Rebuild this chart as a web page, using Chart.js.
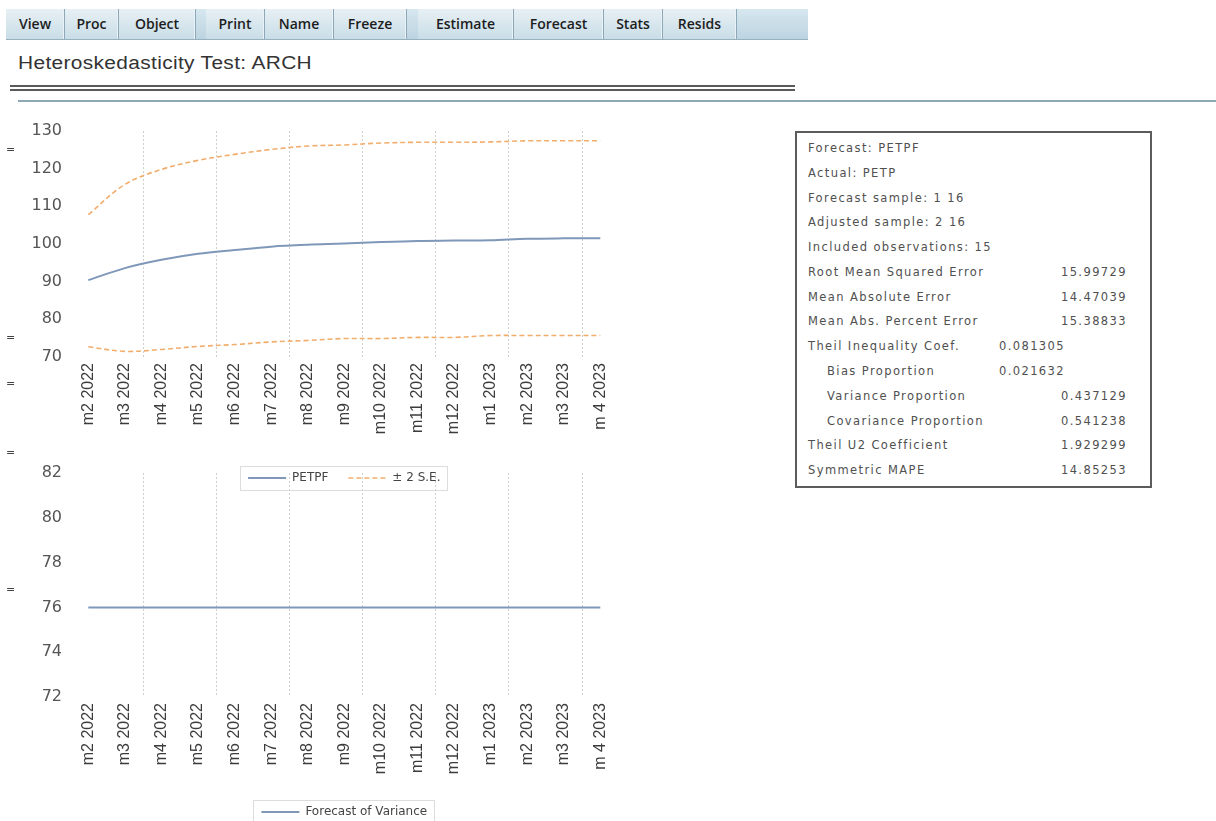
<!DOCTYPE html>
<html>
<head>
<meta charset="utf-8">
<script src="https://cdn.jsdelivr.net/npm/chart.js@4.4.1/dist/chart.umd.min.js"></script>
<style>
  body { margin: 0; width: 1216px; height: 821px; overflow: hidden; background: #fff; position: relative; font-family: "DejaVu Sans", sans-serif; }
  .toolbar { position: absolute; left: 6px; top: 9px; width: 802px; height: 30px; background: linear-gradient(#d6e7ef, #bcd4e1); border-bottom: 1px solid #98b1bf; }
  .toolbar span { position: absolute; top: 0; height: 30px; line-height: 30px; text-align: center; font-family: "Open Sans", sans-serif; font-weight: 600; font-size: 14px; color: #1d1d1d; border-right: 1px solid #8ea8b7; box-shadow: inset -1px 0 0 #e9f2f6; box-sizing: border-box; background: linear-gradient(#e7f0f4, #c9dde7); }
  .titulo { position: absolute; left: 18px; top: 53px; font-family: "Liberation Sans", Arial, sans-serif; font-size: 18px; letter-spacing: 0.3px; color: #333; transform: scaleX(1.16); transform-origin: 0 0; white-space: nowrap; }
  .duplo { position: absolute; left: 10px; top: 85px; width: 785px; height: 2px; border-top: 2px solid #5a5a5a; border-bottom: 2px solid #5a5a5a; }
  .azul { position: absolute; left: 18px; top: 100px; width: 1198px; height: 2px; background: #8fa8b6; }
  .marca { position: absolute; left: 6px; font-size: 11px; color: #444; line-height: 10px; }
  .stats { position: absolute; left: 795px; top: 131px; width: 357px; height: 357px; border: 2px solid #5c5c5c; box-sizing: border-box; }
  .stats div { position: absolute; font-size: 11.5px; letter-spacing: 1.4px; color: #505050; white-space: nowrap; line-height: 14px; }
  canvas { position: absolute; }
</style>
</head>
<body>
<div class="toolbar" id="barra"></div>
<div class="titulo">Heteroskedasticity Test: ARCH</div>
<div class="duplo"></div>
<div class="azul"></div>
<div class="stats" id="stats"></div>
<canvas id="graficoVariancia" width="640" height="388" style="left:0;top:440px"></canvas>
<canvas id="graficoPrevisao" width="640" height="384" style="left:0;top:110px"></canvas>
<script>
const rotulos = ["m2 2022", "m3 2022", "m4 2022", "m5 2022", "m6 2022", "m7 2022", "m8 2022", "m9 2022", "m10 2022", "m11 2022", "m12 2022", "m1 2023", "m2 2023", "m3 2023", "m 4 2023"];
const petpf = [90.4, 93.6, 95.8, 97.4, 98.4, 99.3, 99.8, 100.1, 100.5, 100.8, 100.9, 101.0, 101.4, 101.5, 101.5];
const bandaSuperior = [107.8, 115.8, 119.8, 122.2, 123.8, 125.1, 126.0, 126.3, 126.8, 127.0, 127.0, 127.1, 127.4, 127.4, 127.4];
const bandaInferior = [72.7, 71.5, 72.0, 72.8, 73.3, 74.0, 74.4, 74.9, 74.9, 75.2, 75.2, 75.7, 75.7, 75.7, 75.7];
const variancia = [76, 76, 76, 76, 76, 76, 76, 76, 76, 76, 76, 76, 76, 76, 76];
const ticksPrevisao = [70, 80, 90, 100, 110, 120, 130];
const ticksVariancia = [72, 74, 76, 78, 80, 82];

const botoes = ["View", "Proc", "Object", "", "Print", "Name", "Freeze", "", "Estimate", "Forecast", "Stats", "Resids"];
const bordasBotoes = [0, 59, 113, 190, 200, 259, 328, 401, 412, 508, 598, 657, 731];

const estatLinhas = [
  ["Forecast: PETPF", "", 0, 0],
  ["Actual: PETP", "", 0, 0],
  ["Forecast sample: 1 16", "", 0, 0],
  ["Adjusted sample: 2 16", "", 0, 0],
  ["Included observations: 15", "", 0, 0],
  ["Root Mean Squared Error", "15.99729", 0, 2],
  ["Mean Absolute Error", "14.47039", 0, 2],
  ["Mean Abs. Percent Error", "15.38833", 0, 2],
  ["Theil Inequality Coef.", "0.081305", 0, 1],
  ["Bias Proportion", "0.021632", 1, 1],
  ["Variance Proportion", "0.437129", 1, 2],
  ["Covariance Proportion", "0.541238", 1, 2],
  ["Theil U2 Coefficient", "1.929299", 0, 2],
  ["Symmetric MAPE", "14.85253", 0, 2]
];

function montarBarra() {
  const barra = document.getElementById("barra");
  botoes.forEach((nome, i) => {
    if (!nome) return;
    const el = document.createElement("span");
    el.textContent = nome;
    el.style.left = bordasBotoes[i] + "px";
    el.style.width = (bordasBotoes[i + 1] - bordasBotoes[i]) + "px";
    barra.appendChild(el);
  });
  // marquinhas "=" soltas na margem esquerda
  [150, 338, 384, 453, 590].forEach((y) => {
    const m = document.createElement("div");
    m.className = "marca";
    m.textContent = "=";
    m.style.top = (y - 5) + "px";
    document.body.appendChild(m);
  });
}

function montarEstatisticas() {
  const caixa = document.getElementById("stats");
  estatLinhas.forEach(([texto, valor, recuo, coluna], i) => {
    const y = 148 + i * 24.78 - 131 - 2 - 7;
    const rot = document.createElement("div");
    rot.textContent = texto;
    rot.style.left = (recuo ? 30 : 11) + "px";
    rot.style.top = y + "px";
    caixa.appendChild(rot);
    if (valor) {
      const v = document.createElement("div");
      v.textContent = valor;
      v.style.right = (coluna === 1 ? 1152 - 1067 : 1152 - 1129) + "px";
      v.style.top = y + "px";
      caixa.appendChild(v);
    }
  });
}

const moldura = {
  id: "moldura",
  afterDraw(chart) {
    const caixas = chart.legend.legendHitBoxes;
    if (!caixas || !caixas.length) return;
    const esq = Math.min(...caixas.map((c) => c.left)) - 8;
    const dir = Math.max(...caixas.map((c) => c.left + c.width)) + 7;
    const topo = Math.min(...caixas.map((c) => c.top)) - 6;
    const base = Math.max(...caixas.map((c) => c.top + c.height)) + 6;
    const ctx = chart.ctx;
    ctx.save();
    ctx.strokeStyle = "#dcdcdc";
    ctx.lineWidth = 1;
    ctx.strokeRect(Math.round(esq) + 0.5, Math.round(topo) + 0.5, Math.round(dir - esq), Math.round(base - topo));
    ctx.restore();
  }
};

function eixoX(altura) {
  return {
    type: "category",
    offset: true,
    afterFit: (s) => { s.height = altura; },
    grid: {
      offset: true,
      drawTicks: false,
      lineWidth: 1,
      color: (c) => (c.index % 2 === 0 && c.index > 0 && c.index < rotulos.length) ? "#cfcfcf" : "rgba(0,0,0,0)"
    },
    border: { display: false, dash: [2, 2] },
    ticks: { autoSkip: false, minRotation: 90, maxRotation: 90, padding: 6, color: "#3c3c3c", font: { family: "Liberation Sans", size: 16 } }
  };
}

function eixoY(ticks) {
  return {
    min: ticks[0],
    max: ticks[ticks.length - 1],
    afterFit: (s) => { s.width = 70; },
    afterBuildTicks: (s) => { s.ticks = ticks.map((v) => ({ value: v })); },
    grid: { display: false, drawTicks: false },
    border: { display: false },
    ticks: { padding: 8, color: "#555", font: { family: "DejaVu Sans", size: 16 } }
  };
}

function legenda(padding, filtro) {
  return {
    position: "bottom",
    fullSize: false,
    labels: {
      usePointStyle: true,
      pointStyle: "line",
      pointStyleWidth: 38,
      padding: padding,
      color: "#444",
      font: { family: "DejaVu Sans", size: 12 },
      filter: filtro,
      generateLabels: (chart) => Chart.defaults.plugins.legend.labels.generateLabels(chart).map((item) => {
        const ds = chart.data.datasets[item.datasetIndex];
        item.lineDash = ds.borderDash || [];
        item.lineWidth = ds.borderWidth;
        item.strokeStyle = ds.borderColor;
        return item;
      })
    }
  };
}

document.addEventListener("DOMContentLoaded", () => {
  montarBarra();
  montarEstatisticas();

  new Chart(document.getElementById("graficoPrevisao"), {
    type: "line",
    data: {
      labels: rotulos,
      datasets: [
        { label: "PETPF", data: petpf, borderColor: "#7f98ba", borderWidth: 2, pointRadius: 0, tension: 0.35 },
        { label: "± 2 S.E.", data: bandaSuperior, borderColor: "#f2ad6c", borderWidth: 1.6, borderDash: [5, 3], pointRadius: 0, tension: 0.35 },
        { label: "inferior", data: bandaInferior, borderColor: "#f2ad6c", borderWidth: 1.6, borderDash: [5, 3], pointRadius: 0, tension: 0.35 }
      ]
    },
    options: {
      responsive: false,
      animation: false,
      devicePixelRatio: 1,
      layout: { padding: { top: 21, right: 21.4, bottom: 0, left: 0 } },
      plugins: { legend: legenda(20, (item) => item.datasetIndex < 2), tooltip: { enabled: false } },
      scales: { x: eixoX(95), y: eixoY(ticksPrevisao) }
    },
    plugins: [moldura]
  });

  new Chart(document.getElementById("graficoVariancia"), {
    type: "line",
    data: {
      labels: rotulos,
      datasets: [
        { label: "Forecast of Variance", data: variancia, borderColor: "#7f98ba", borderWidth: 2, pointRadius: 0 }
      ]
    },
    options: {
      responsive: false,
      animation: false,
      devicePixelRatio: 1,
      layout: { padding: { top: 33, right: 21.4, bottom: 0, left: 0 } },
      plugins: { legend: legenda(4), tooltip: { enabled: false } },
      scales: { x: eixoX(105), y: eixoY(ticksVariancia) }
    },
    plugins: [moldura]
  });
});
</script>
</body>
</html>
